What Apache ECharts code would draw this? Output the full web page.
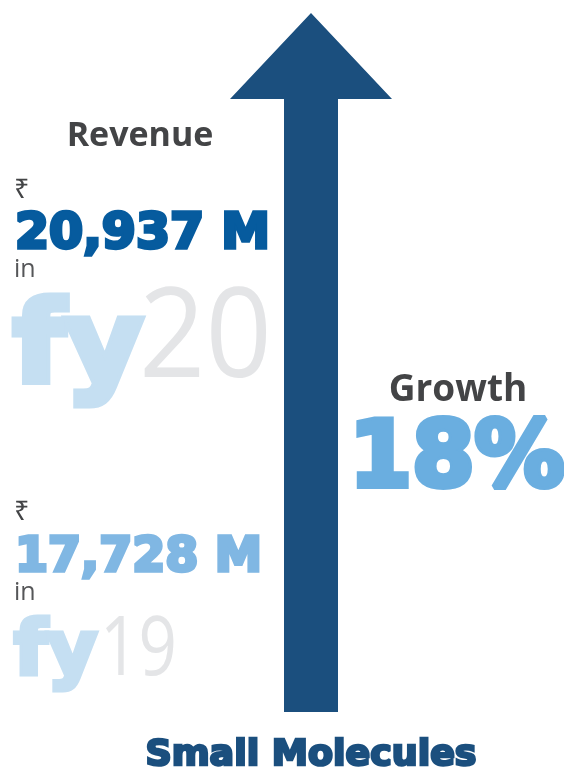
<!DOCTYPE html>
<html>
<head>
<meta charset="utf-8">
<script src="https://cdn.jsdelivr.net/npm/echarts@6/dist/echarts.min.js"></script>
<style>
  html, body { margin: 0; padding: 0; background: #fff; }
  #chart { width: 564px; height: 769px; }
</style>
</head>
<body>
<div id="chart"></div>
<script>
// data
var years = ['fy19', 'fy20'];
var revenue = [17728, 20937];     // ₹ M
var growthPct = [18];
var segment = ['Small Molecules'];

// arrow layout (pixels on a hidden 564 x 769 grid)
var arrowX = 311, arrowTip = 13, arrowHeadBase = 99, arrowHeadHalf = 81, arrowShaftHalf = 27, arrowBottom = 712;

var heavy = '"DejaVu Sans"';
var plain = '"Open Sans"';

function fmt(v) {
  return v.toLocaleString('en-US') + ' M';
}

// text helper, x/y on the element so scaling happens around the anchor
function txt(x, y, text, font, color, opts) {
  opts = opts || {};
  var el = {
    type: 'text', x: x, y: y,
    scaleX: opts.sx || 1, scaleY: opts.sy || 1,
    style: {
      text: text, font: font, fill: color,
      align: opts.align || 'left', verticalAlign: 'middle'
    }
  };
  if (opts.bold) {
    el.style.stroke = color;
    el.style.lineWidth = opts.bold;
  }
  return el;
}

var chart = echarts.init(document.getElementById('chart'));

var option = {
  animation: false,
  grid: { left: 0, right: 0, top: 0, bottom: 0 },
  xAxis: { type: 'value', min: 0, max: 564, show: false },
  yAxis: { type: 'value', min: 0, max: 769, inverse: true, show: false },
  series: [{
    type: 'custom',
    data: [[arrowX, arrowTip]],
    renderItem: function (params, api) {
      var pts = [
        [arrowX, arrowTip],
        [arrowX + arrowHeadHalf, arrowHeadBase],
        [arrowX + arrowShaftHalf, arrowHeadBase],
        [arrowX + arrowShaftHalf, arrowBottom],
        [arrowX - arrowShaftHalf, arrowBottom],
        [arrowX - arrowShaftHalf, arrowHeadBase],
        [arrowX - arrowHeadHalf, arrowHeadBase]
      ].map(function (p) { return api.coord(p); });
      return {
        type: 'polygon',
        shape: { points: pts },
        style: { fill: '#1b4f7e' }
      };
    }
  }],
  graphic: [
    txt(140, 136, 'Revenue', 'bold 34px ' + plain, '#434446', { align: 'center' }),

    // fy20 block
    txt(14, 190, '₹', '27px "Noto Sans"', '#434446'),
    txt(15, 235, fmt(revenue[1]), 'bold 49px ' + heavy, '#065b9e', { bold: 3.5 }),
    txt(14, 270, 'in', '25px ' + plain, '#555658'),
    txt(13, 352, years[1].slice(0, 2), 'bold 113px ' + heavy, '#c5dff2', { bold: 7, sx: 1.06 }),
    txt(139, 341, years[1].slice(2), '125px ' + plain, '#e4e5e7', { sx: 0.93 }),

    // fy19 block
    txt(14, 512, '₹', '27px "Noto Sans"', '#434446'),
    txt(15, 559, fmt(revenue[0]), 'bold 47.5px ' + heavy, '#80b7e3', { bold: 3.5 }),
    txt(14, 593, 'in', '25px ' + plain, '#555658'),
    txt(14, 655, years[0].slice(0, 2), 'bold 75px ' + heavy, '#c5dff2', { bold: 5, sx: 1.02 }),
    txt(100, 652, years[0].slice(2), '82px ' + plain, '#e4e5e7', { sx: 0.82 }),

    // growth
    txt(458, 390, 'Growth', 'bold 37px ' + plain, '#434446', { align: 'center' }),
    txt(457, 463, growthPct[0] + '%', 'bold 90px ' + heavy, '#6aaee0', { align: 'center', bold: 6 }),

    // segment label
    txt(311, 756, segment[0], 'bold 35px ' + heavy, '#1b4f7e', { align: 'center', bold: 2.5, sx: 1.04 })
  ]
};

chart.setOption(option);
</script>
</body>
</html>
